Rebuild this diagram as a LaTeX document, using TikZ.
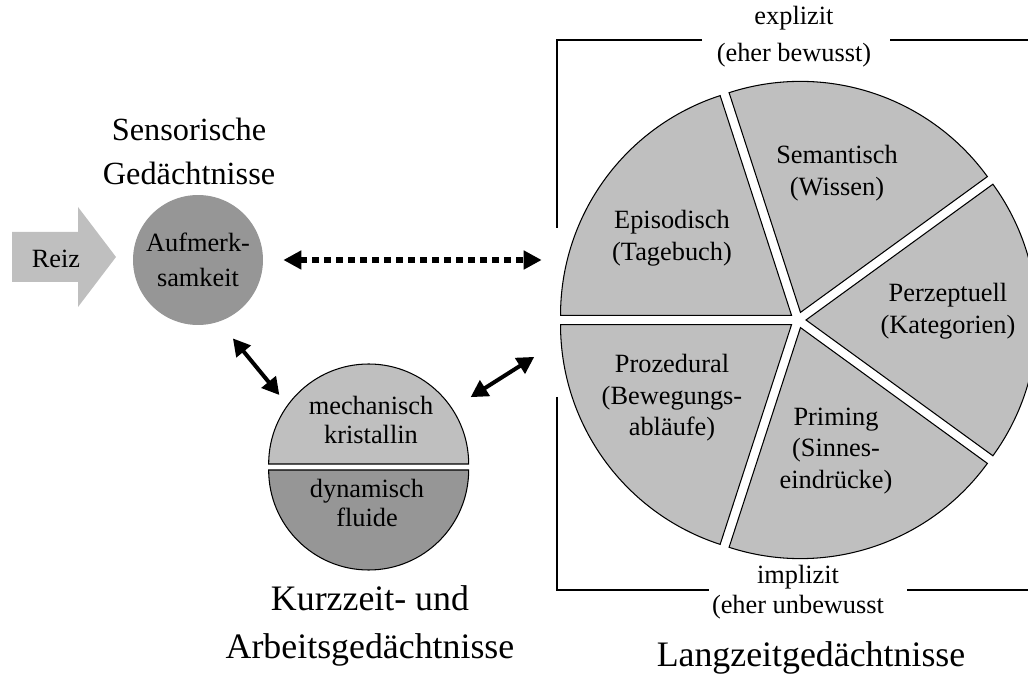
\documentclass[tikz,border=0pt]{standalone}
\usepackage{fontspec}
\setmainfont{Liberation Serif}
\usetikzlibrary{arrows.meta}
\definecolor{lightgrey}{gray}{0.75}
\definecolor{darkgrey}{gray}{0.59}

\begin{document}
\begin{tikzpicture}[x=0.02cm, y=0.02cm,
    memtext/.style={align=center, font=\fontsize{15}{18}\selectfont},
    title/.style={align=center, font=\fontsize{20.4}{27}\selectfont},
    slice/.style={fill=lightgrey, draw=black, line width=0.6pt},
    bracket/.style={draw=black, line width=0.6pt},
    twoway/.style={{Triangle[length=0.34cm, width=0.36cm]}-{Triangle[length=0.34cm, width=0.36cm]}, line width=0.08cm},
    dotway/.style={{Triangle[length=0.36cm, width=0.36cm]}-{Triangle[length=0.36cm, width=0.36cm]}, line width=0.12cm, dash pattern=on 0.13cm off 0.11cm}]
    \useasboundingbox (0,0) rectangle (1028,673);

    % Reiz
    \fill[lightgrey] (12,441) -- (78,441) -- (78,466) -- (116,416) -- (78,366) -- (78,391) -- (12,391) -- cycle;
    \node[memtext] (reiz) at (56,414) {Reiz};

    \node[circle, fill=darkgrey, minimum size=2.6cm, inner sep=0pt, memtext, font=\fontsize{15}{20}\selectfont] (aufm) at (198,413) {Aufmerk-\\samkeit};
    \node[title, font=\fontsize{18.4}{25}\selectfont] (sens) at (189,522) {Sensorische\\Gedächtnisse};

    % Kurzzeit
    \node[circle, minimum size=4cm, inner sep=0pt] (stm) at (369,206) {};
    \filldraw[slice] ([yshift=0.06cm]stm.west) arc[start angle=180, end angle=0, radius=100] -- cycle;
    \filldraw[slice, fill=darkgrey] ([yshift=-0.06cm]stm.west) arc[start angle=180, end angle=360, radius=100] -- cycle;
    \node[memtext, font=\fontsize{15}{17}\selectfont] (mech) at (371,253) {mechanisch\\kristallin};
    \node[memtext, font=\fontsize{15}{16}\selectfont] (dyn) at (367,170) {dynamisch\\fluide};
    \node[title] (kzg) at (370,47) {Kurzzeit- und\\Arbeitsgedächtnisse};

    % Langzeit
    \coordinate (pie) at (798,353);
    \node[circle, minimum size=9.56cm, inner sep=0pt] (ltm) at (pie) {};
    \foreach \ang in {0,72,144,216,288}
        \filldraw[slice] (pie) ++(\ang:8) -- ++(\ang-36:231) arc[start angle=\ang-36, end angle=\ang+36, radius=231] -- cycle;
    \node[memtext] (episodisch) at (672,435) {Episodisch\\(Tagebuch)};
    \node[memtext] (semantisch) at (837,500) {Semantisch\\(Wissen)};
    \node[memtext] (perzeptuell) at (948,362) {Perzeptuell\\(Kategorien)};
    \node[memtext] (prozedural) at (672,275) {Prozedural\\(Bewegungs-\\abläufe)};
    \node[memtext] (priming) at (836,222) {Priming\\(Sinnes-\\eindrücke)};

    \node[memtext, font=\fontsize{15}{21}\selectfont] (explizit) at (794,636) {explizit\\(eher bewusst)};
    \node[memtext, font=\fontsize{15}{17}\selectfont] (implizit) at (798,81) {implizit\\(eher unbewusst};
    \draw[bracket] (702,633) -- (557,633) -- (557,445);
    \draw[bracket] (557,276) -- (557,83) -- (709,83);
    \draw[bracket] (890,633) -- (1028,633);
    \draw[bracket] (907,83) -- (1028,83);
    \node[title] (lzg) at (811,15) {Langzeitgedächtnisse};

    % Verbindungen
    \draw[dotway, shorten <=0.4cm, shorten >=0.34cm] (aufm.east) -- (aufm.east -| ltm.west);
    \draw[twoway, shorten <=0.43cm, shorten >=0.3cm] (aufm.-71) -- (stm.143);
    \draw[twoway, shorten <=0.46cm, shorten >=0.6cm] (stm.35) -- (ltm.185);
\end{tikzpicture}
\end{document}
